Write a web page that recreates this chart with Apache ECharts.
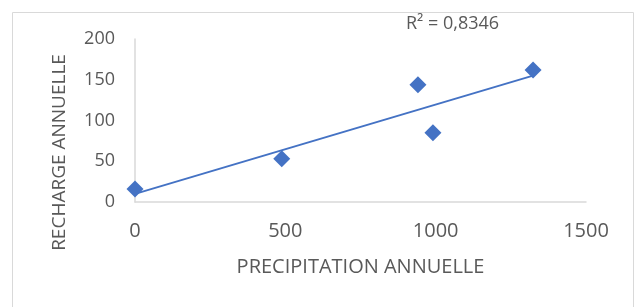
<!DOCTYPE html>
<html>
<head>
<meta charset="utf-8">
<script src="https://cdn.jsdelivr.net/npm/echarts@6/dist/echarts.min.js"></script>
<style>
  html, body { margin: 0; padding: 0; background: #fff; }
  #chart { width: 636px; height: 307px; }
</style>
</head>
<body>
<div id="chart"></div>
<script>
// valeurs
const precipitation = [0, 488, 941, 991, 1324];
const recharge = [16, 53, 144, 85, 162];
const xTicks = [0, 500, 1000, 1500];
const yTicks = [0, 50, 100, 150, 200];
const r2Label = "R² = 0,8346";

// droite de tendance (moindres carres)
const n = precipitation.length;
const mx = precipitation.reduce((a, b) => a + b, 0) / n;
const my = recharge.reduce((a, b) => a + b, 0) / n;
let sxy = 0, sxx = 0;
precipitation.forEach((x, i) => {
    sxy += (x - mx) * (recharge[i] - my);
    sxx += (x - mx) * (x - mx);
});
const slope = sxy / sxx;
const intercept = my - slope * mx;
const xMin = Math.min(...precipitation);
const xMax = Math.max(...precipitation);
const trend = [[xMin, intercept + slope * xMin], [xMax, intercept + slope * xMax]];

const textColor = "#595959";
const font = "'Open Sans', 'Liberation Sans', sans-serif";

const chart = echarts.init(document.getElementById("chart"));
chart.setOption({
    animation: false,
    graphic: [
        {
            type: "rect",
            shape: {x: 12.5, y: 12.5, width: 621, height: 310},
            style: {fill: "none", stroke: "#d9d9d9", lineWidth: 1}
        },
        {
            type: "text",
            left: 406,
            top: 15,
            style: {text: r2Label, fill: textColor, font: `18px ${font}`}
        }
    ],
    grid: {left: 135, right: 50, top: 39, bottom: 105},
    xAxis: {
        type: "value",
        min: xTicks[0],
        max: xTicks[xTicks.length - 1],
        interval: 500,
        name: "PRECIPITATION ANNUELLE",
        nameLocation: "middle",
        nameGap: 55,
        nameTextStyle: {color: textColor, fontSize: 20, fontFamily: font},
        axisLine: {lineStyle: {color: "#d9d9d9", width: 1.5}},
        axisTick: {show: false},
        splitLine: {show: false},
        axisLabel: {color: textColor, fontSize: 20, fontFamily: font, margin: 19, formatter: v => String(v)}
    },
    yAxis: {
        type: "value",
        min: yTicks[0],
        max: yTicks[yTicks.length - 1],
        interval: 50,
        name: "RECHARGE ANNUELLE",
        nameLocation: "middle",
        nameGap: 66,
        nameRotate: 90,
        nameTextStyle: {color: textColor, fontSize: 19, fontFamily: font, padding: [0, 64, 0, 0]},
        axisLine: {show: true, lineStyle: {color: "#d9d9d9", width: 1.5}},
        axisTick: {show: false},
        splitLine: {show: false},
        axisLabel: {color: textColor, fontSize: 18, fontFamily: font, margin: 20}
    },
    series: [
        {
            type: "line",
            data: trend,
            symbol: "none",
            lineStyle: {color: "#4472C4", width: 2},
            z: 2
        },
        {
            type: "scatter",
            data: precipitation.map((x, i) => [x, recharge[i]]),
            symbol: "diamond",
            symbolSize: [17, 17],
            itemStyle: {color: "#4472C4", opacity: 1},
            z: 3
        }
    ]
});
</script>
</body>
</html>
